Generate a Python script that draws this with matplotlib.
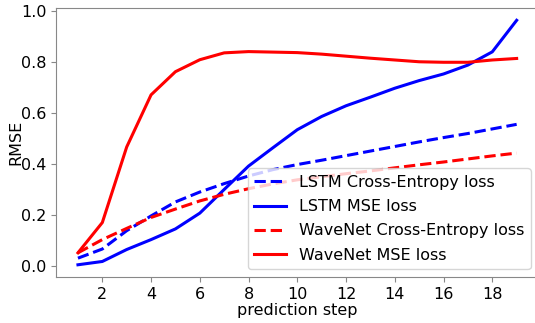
import numpy as np
import matplotlib
matplotlib.use("Agg")
import matplotlib.pyplot as plt

steps = list(range(1, 20))

lstm_ce = [0.030, 0.066, 0.138, 0.196, 0.251, 0.290, 0.323, 0.353, 0.378, 0.398,
           0.415, 0.433, 0.451, 0.469, 0.487, 0.504, 0.520, 0.538, 0.556]
lstm_mse = [0.004, 0.017, 0.064, 0.103, 0.145, 0.207, 0.300, 0.392, 0.464, 0.535,
            0.587, 0.629, 0.663, 0.698, 0.728, 0.754, 0.789, 0.841, 0.965]
wavenet_ce = [0.051, 0.103, 0.147, 0.190, 0.223, 0.255, 0.281, 0.303, 0.322, 0.338,
              0.350, 0.362, 0.373, 0.385, 0.397, 0.408, 0.420, 0.432, 0.443]
wavenet_mse = [0.051, 0.170, 0.467, 0.672, 0.763, 0.810, 0.837, 0.842, 0.840, 0.838,
               0.832, 0.824, 0.816, 0.809, 0.802, 0.800, 0.800, 0.809, 0.815]

plt.rcParams["font.size"] = 11.5

fig = plt.figure(figsize=(5.35, 3.23), dpi=100)
# axes run slightly past the right edge, like the cropped original
ax = fig.add_axes([0.1047, 0.1424, 0.902, 0.8326])

lw = 2.2
ax.plot(steps, lstm_ce, "--", c="blue", lw=lw, label="LSTM Cross-Entropy loss")
ax.plot(steps, lstm_mse, "-", c="blue", lw=lw, label="LSTM MSE loss")
ax.plot(steps, wavenet_ce, "--", c="red", lw=lw, label="WaveNet Cross-Entropy loss")
ax.plot(steps, wavenet_mse, "-", c="red", lw=lw, label="WaveNet MSE loss")

ax.set_xticks(range(2, 20, 2))
ax.set_xlabel("prediction step", labelpad=1)
ax.set_ylabel("RMSE", labelpad=-1.5)

for s in ax.spines.values():
    s.set_color("#888888")
ax.tick_params(colors="#888888", labelcolor="black")

ax.legend(loc="lower right", labelspacing=0.58)

fig.savefig("out.png", dpi=100)
